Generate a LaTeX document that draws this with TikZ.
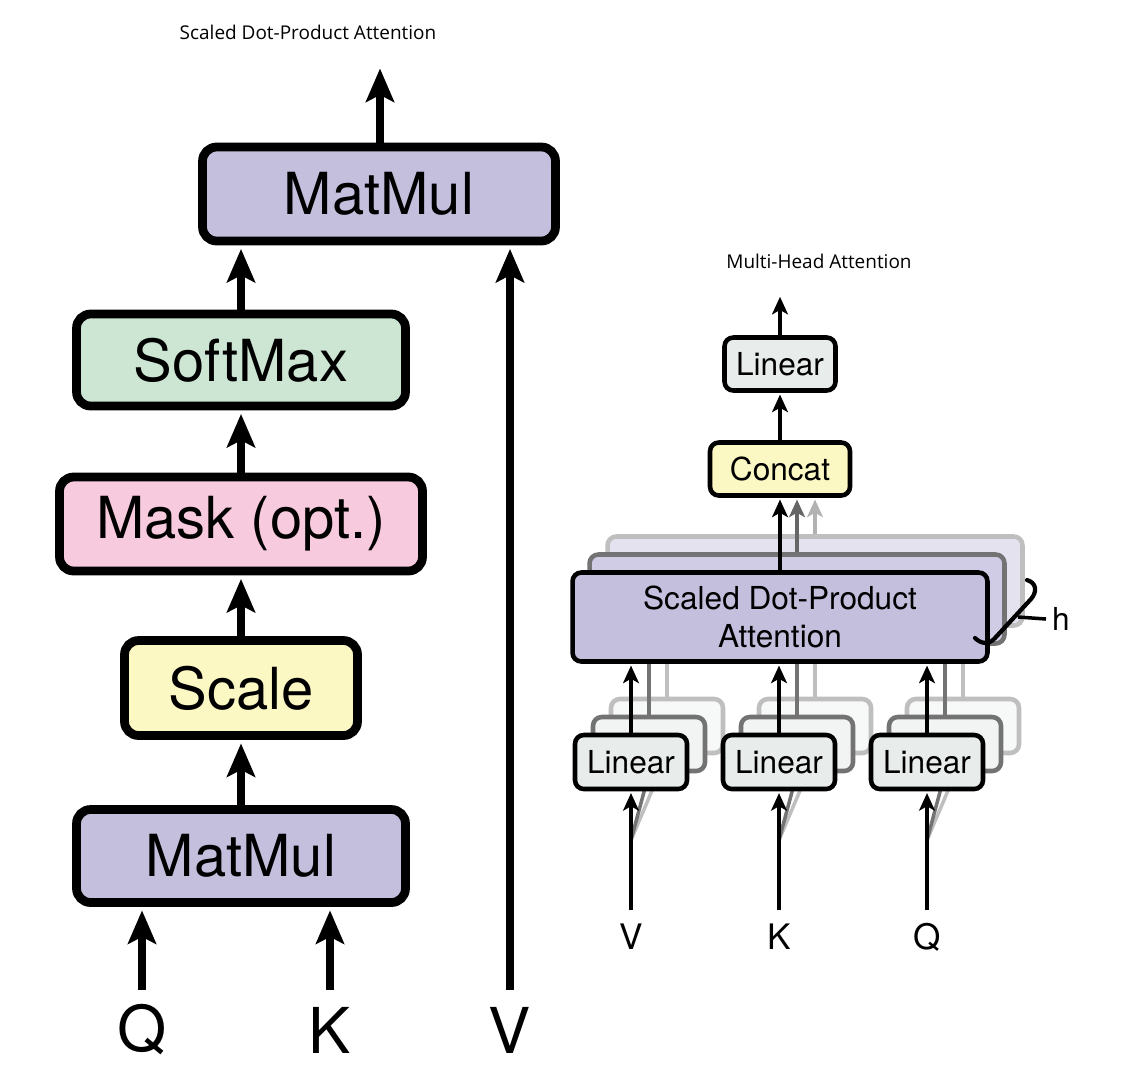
\documentclass[tikz,border=0pt]{standalone}
\usepackage{fontspec}
\setmainfont{TeX Gyre Heros}
\newfontfamily\titlefont{Open Sans}
\usetikzlibrary{arrows.meta}

\definecolor{mmfill}{RGB}{197,191,222}
\definecolor{smfill}{RGB}{204,230,211}
\definecolor{maskfill}{RGB}{247,203,221}
\definecolor{scfill}{RGB}{252,248,196}
\definecolor{linfill}{RGB}{232,236,234}

\tikzset{
  bigbox/.style={draw, line width=5pt, rounded corners=8pt, inner sep=0pt, font=\fontsize{33}{36}\selectfont},
  smallbox/.style={draw, line width=2.6pt, rounded corners=5pt, inner sep=0pt, font=\fontsize{18}{21.6}\selectfont},
  bigarrow/.style={line width=5pt, -{Stealth[length=19pt,width=16pt,inset=4pt]}, shorten >=2pt},
  smallarrow/.style={line width=2.2pt, -{Stealth[length=10pt,width=9pt,inset=2.5pt]}, shorten >=1pt},
  title/.style={font=\titlefont\fontsize{10.8}{12}\selectfont},
}

\begin{document}
\begin{tikzpicture}[x=0.02cm, y=-0.02cm]
  \useasboundingbox (0,0) rectangle (1124,1090);

  % Scaled Dot-Product Attention
  \node[title] (ttl1) at (308,32) {Scaled Dot-Product Attention};
  \node[bigbox, fill=mmfill, minimum width=7.06cm, minimum height=1.88cm] (mm2) at (379,194) {MatMul};
  \node[bigbox, fill=smfill, minimum width=6.58cm, minimum height=1.84cm] (softmax) at (241,360) {SoftMax};
  \node[bigbox, fill=maskfill, minimum width=7.26cm, minimum height=1.88cm] (mask) at (241,524) {Mask (opt.)};
  \node[bigbox, fill=scfill, minimum width=4.66cm, minimum height=1.90cm] (scale) at (241,688) {Scale};
  \node[bigbox, fill=mmfill, minimum width=6.58cm, minimum height=1.86cm] (mm1) at (241,856) {MatMul};

  % inputs
  \node[font=\fontsize{36}{40}\selectfont] (qlab) at (142,1030) {Q};
  \node[font=\fontsize{36}{40}\selectfont] (klab) at (330,1030) {K};
  \node[font=\fontsize{36}{40}\selectfont] (vlab) at (510,1030) {V};
  \coordinate (qin) at (142,990);
  \coordinate (kin) at (330,990);
  \coordinate (vin) at (510,990);
  \coordinate (out1) at (380,65);

  % Connect nodes
  \draw[bigarrow] (qin) -- (qin |- mm1.south);
  \draw[bigarrow] (kin) -- (kin |- mm1.south);
  \draw[bigarrow] (vin) -- (vin |- mm2.south);
  \draw[bigarrow] (mm1.north) -- (scale.south);
  \draw[bigarrow] (scale.north) -- (mask.south);
  \draw[bigarrow] (mask.north) -- (softmax.south);
  \draw[bigarrow] (softmax.north) -- (softmax.north |- mm2.south);
  \draw[bigarrow] (out1 |- mm2.north) -- (out1);

  % Multi-Head Attention
  \node[title] (ttl2) at (819,261) {Multi-Head Attention};

  % stacked heads (back to front)
  \node[smallbox, draw=black!25, fill=mmfill!45!white, minimum width=8.30cm, minimum height=1.78cm] (sdpac) at (815,581) {};
  \node[smallbox, draw=black!55, fill=mmfill!80!white, minimum width=8.30cm, minimum height=1.78cm] (sdpab) at (797,599) {};
  \foreach \n/\x in {v/631,k/779,q/927} {
    \node[smallbox, draw=black!25, fill=linfill!35!white, minimum width=2.24cm, minimum height=1.08cm] (lin\n c) at (\x+36,726) {};
    \node[smallbox, draw=black!55, fill=linfill!60!white, minimum width=2.24cm, minimum height=1.08cm] (lin\n b) at (\x+18,744) {};
    \coordinate (in\n) at (\x,910);
    \coordinate (sh\n) at (\x,840);
    \draw[line width=2pt, black!25] (sh\n) -- (lin\n c.south);
    \draw[line width=2pt, black!55] (sh\n) -- (lin\n b.south);
    \draw[line width=2pt, black!25] (lin\n c.north) -- (lin\n c.north |- sdpac.south);
    \draw[line width=2pt, black!55] (lin\n b.north) -- (lin\n b.north |- sdpab.south);
  }

  % front nodes
  \node[smallbox, fill=mmfill, minimum width=8.30cm, minimum height=1.78cm, align=center] (sdpa) at (780,617) {Scaled Dot-Product\\Attention};
  \node[smallbox, fill=scfill, minimum width=2.80cm, minimum height=1.06cm] (concat) at (780,469) {Concat};
  \node[smallbox, fill=linfill, minimum width=2.22cm, minimum height=1.06cm] (lin4) at (780,364) {Linear};
  \coordinate (out2) at (780,295);
  \foreach \n/\x/\t in {v/631/V,k/779/K,q/927/Q} {
    \node[smallbox, fill=linfill, minimum width=2.24cm, minimum height=1.08cm] (lin\n) at (\x,762) {Linear};
    \node[font=\fontsize{20}{24}\selectfont] (lab\n) at (\x,937) {\t};
    \draw[smallarrow] (in\n) -- (lin\n.south);
    \draw[smallarrow] (lin\n.north) -- (lin\n.north |- sdpa.south);
  }

  % Connect nodes
  \draw[smallarrow, black!30] (sdpac.north) -- (sdpac.north |- concat.south);
  \draw[smallarrow, black!60] (sdpab.north) -- (sdpab.north |- concat.south);
  \draw[smallarrow] (sdpa.north) -- (concat.south);
  \draw[smallarrow] (concat.north) -- (lin4.south);
  \draw[smallarrow] (lin4.north) -- (out2);

  % h brace
  \node[font=\fontsize{18}{21.6}\selectfont] (hlab) at (1061,619) {h};
  \draw[line width=2.4pt, line cap=round] (1027,580) .. controls (1037,583) and (1037,592) .. (1031,599) -- (995,638) .. controls (989,645) and (981,644) .. (975,638);
  \draw[line width=2pt] (1018,617) -- (hlab.west);
\end{tikzpicture}
\end{document}
